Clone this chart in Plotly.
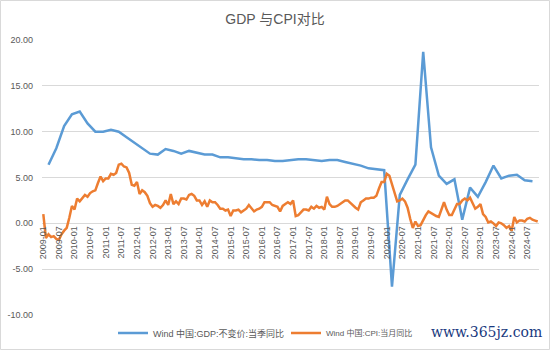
import plotly.graph_objects as go

# ---- data ----
months = [f"{y}-{m:02d}" for y in range(2009, 2025) for m in range(1, 13)][:191]  # 2009-01 .. 2024-11
quarter_months = [m for m in months if int(m[5:]) % 3 == 0][:63]  # 2009-03 .. 2024-09

gdp_yoy = [6.4, 8.2, 10.6, 11.9,
           12.2, 10.9, 10.0, 10.0,
           10.2, 10.0, 9.4, 8.8,
           8.1, 7.6, 7.5, 8.1,
           7.9, 7.6, 7.9, 7.7,
           7.5, 7.5, 7.2, 7.2,
           7.1, 7.0, 7.0, 6.9,
           6.9, 6.8, 6.8, 6.9,
           7.0, 7.0, 6.9, 6.8,
           6.9, 6.9, 6.7, 6.5,
           6.3, 6.0, 5.9, 5.8,
           -6.9, 3.1, 4.8, 6.4,
           18.7, 8.3, 5.2, 4.3,
           4.8, 0.4, 3.9, 2.9,
           4.5, 6.3, 4.9, 5.2,
           5.3, 4.7, 4.6]

cpi_yoy = [1.0, -1.6, -1.2, -1.5, -1.4, -1.7, -1.8, -1.2, -0.8, -0.5, 0.6, 1.9,
           1.5, 2.7, 2.4, 2.8, 3.1, 2.9, 3.3, 3.5, 3.6, 4.4, 5.1, 4.6,
           4.9, 4.9, 5.4, 5.3, 5.5, 6.4, 6.5, 6.2, 6.1, 5.5, 4.2, 4.1,
           4.5, 3.2, 3.6, 3.4, 3.0, 2.2, 1.8, 2.0, 1.9, 1.7, 2.0, 2.5,
           2.0, 3.2, 2.1, 2.4, 2.1, 2.7, 2.7, 2.6, 3.1, 3.2, 3.0, 2.5,
           2.5, 2.0, 2.4, 1.8, 2.5, 2.3, 2.3, 2.0, 1.6, 1.6, 1.4, 1.5,
           0.8, 1.4, 1.4, 1.5, 1.2, 1.4, 1.6, 2.0, 1.6, 1.3, 1.5, 1.6,
           1.8, 2.3, 2.3, 2.3, 2.0, 1.9, 1.8, 1.3, 1.9, 2.1, 2.3, 2.1,
           2.5, 0.8, 0.9, 1.2, 1.5, 1.5, 1.4, 1.8, 1.6, 1.9, 1.7, 1.8,
           1.5, 2.9, 2.1, 1.8, 1.8, 1.9, 2.1, 2.3, 2.5, 2.5, 2.2, 1.9,
           1.7, 1.5, 2.3, 2.5, 2.7, 2.7, 2.8, 2.8, 3.0, 3.8, 4.5, 4.5,
           5.4, 5.2, 4.3, 3.3, 2.4, 2.5, 2.7, 2.4, 1.7, 0.5, -0.5, 0.2,
           -0.3, -0.2, 0.4, 0.9, 1.3, 1.1, 1.0, 0.8, 0.7, 1.5, 2.3, 1.5,
           0.9, 0.9, 1.5, 2.1, 2.1, 2.5, 2.7, 2.5, 2.8, 2.1, 1.6, 1.8,
           2.1, 1.0, 0.7, 0.1, 0.2, 0.0, -0.3, 0.1, 0.0, -0.2, -0.5, -0.3,
           -0.8, 0.7, 0.1, 0.3, 0.3, 0.2, 0.5, 0.6, 0.4, 0.3, 0.2]

tick_labels = months[::6]
y_ticks = [20, 15, 10, 5, 0, -5, -10]

series_names = ["Wind 中国:GDP:不变价:当季同比", "Wind 中国:CPI:当月同比"]
title_text = "GDP 与CPI对比"
watermark = "www.365jz.com"

# ---- figure ----
FONT = "Liberation Sans, Noto Sans CJK SC, sans-serif"
GRAY = "#595959"
L, R, T, B = 42, 11, 40, 35
W, H = 550, 350
pw, ph = W - L - R, H - T - B

fig = go.Figure()
fig.add_trace(go.Scatter(x=quarter_months, y=gdp_yoy, mode="lines", name=series_names[0],
                         line=dict(color="#5B9BD5", width=2.5), connectgaps=True,
                         legend="legend"))
fig.add_trace(go.Scatter(x=months, y=cpi_yoy, mode="lines", name=series_names[1],
                         line=dict(color="#ED7D31", width=2.5), legend="legend2"))

leg_common = dict(orientation="h", xref="container", yref="container",
                  xanchor="left", yanchor="middle", y=1 - 333 / H, itemwidth=30,
                  bgcolor="rgba(0,0,0,0)", borderwidth=0)

fig.update_layout(
    width=W, height=H,
    margin=dict(l=L, r=R, t=T, b=B, autoexpand=False),
    paper_bgcolor="white", plot_bgcolor="white",
    font=dict(family=FONT, color=GRAY, size=9),
    title=dict(text=title_text, x=0.5, xanchor="center", y=1 - 19 / H, yanchor="middle",
               font=dict(size=14, color=GRAY, family=FONT)),
    showlegend=True,
    legend=dict(x=113 / W, font=dict(size=9, color=GRAY, family=FONT), **leg_common),
    legend2=dict(x=286 / W, font=dict(size=8, color=GRAY, family=FONT), **leg_common),
    xaxis=dict(type="category", categoryorder="array", categoryarray=months,
               range=[-0.5, len(months) - 0.5],
               tickmode="array", tickvals=tick_labels, ticktext=tick_labels,
               tickangle=-90, showgrid=False, zeroline=False, showline=False,
               ticks="", anchor="free", position=10 / 30, automargin=False,
               tickfont=dict(size=9, color=GRAY)),
    yaxis=dict(range=[-10, 20], tickmode="array", tickvals=y_ticks,
               ticktext=[f"{v:.2f}" for v in y_ticks], automargin=False,
               showgrid=True, gridcolor="#d9d9d9", gridwidth=1,
               zeroline=False, showline=False, ticks="",
               ticklabelstandoff=8, tickfont=dict(size=9, color=GRAY)),
    shapes=[dict(type="rect", xref="paper", yref="paper",
                 x0=-(L - 0.5) / pw, x1=1 + (R - 0.5) / pw,
                 y0=-(B - 0.5) / ph, y1=1 + (T - 0.5) / ph,
                 line=dict(color="#d9d9d9", width=1), fillcolor="rgba(0,0,0,0)", layer="below")],
    annotations=[dict(text=watermark, xref="paper", yref="paper",
                      x=(544 - L) / pw, xanchor="right",
                      y=-(332 - (H - B)) / ph, yanchor="middle", showarrow=False,
                      font=dict(family="DejaVu Serif, serif", size=14, color="#1a3a80"))],
)

fig.write_html("out.html")
